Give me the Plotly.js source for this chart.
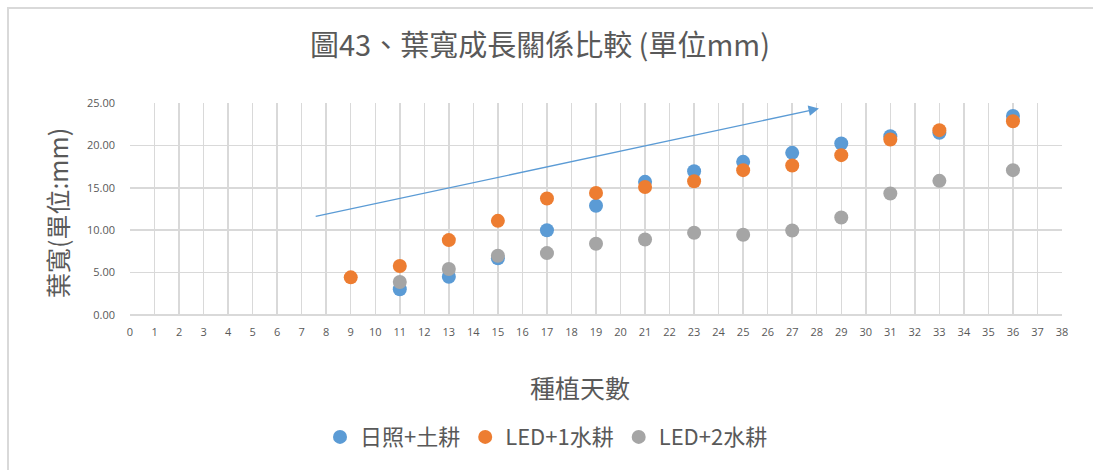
<!DOCTYPE html>
<html>
<head>
<meta charset="utf-8">
<script src="https://cdn.plot.ly/plotly-3.0.1.min.js"></script>
<style>
  html, body { margin: 0; padding: 0; background: #fff; }
  #wrap { position: relative; width: 1093px; height: 470px; overflow: hidden; }
  #chart { position: absolute; left: 0; top: 0; width: 1093px; height: 470px; }
  #frame { position: absolute; left: 7px; top: 7px; width: 1100px; height: 480px;
           border-left: 2px solid #D9D9D9; border-top: 2px solid #D9D9D9; pointer-events: none; }
</style>
</head>
<body>
<div id="wrap">
  <div id="chart"></div>
  <div id="frame"></div>
</div>
<script>
// ---- data ----
const days1 = [11, 13, 15, 17, 19, 21, 23, 25, 27, 29, 31, 33, 36];
const sunSoil = [3.03, 4.51, 6.68, 10.0, 12.88, 15.7, 16.96, 18.06, 19.12, 20.22, 21.08, 21.5, 23.47];

const days2 = [9, 11, 13, 15, 17, 19, 21, 23, 25, 27, 29, 31, 33, 36];
const led1Water = [4.44, 5.77, 8.83, 11.1, 13.74, 14.4, 15.1, 15.78, 17.08, 17.63, 18.85, 20.69, 21.8, 22.85];

const days3 = [11, 13, 15, 17, 19, 21, 23, 25, 27, 29, 31, 33, 36];
const led2Water = [3.89, 5.42, 6.99, 7.3, 8.4, 8.9, 9.7, 9.46, 9.97, 11.5, 14.33, 15.82, 17.08];

const seriesNames = ['日照+土耕', 'LED+1水耕', 'LED+2水耕'];
const seriesColors = ['#5B9BD5', '#ED7D31', '#A5A5A5'];

const titleText = '圖43、葉寬成長關係比較 (單位mm)';
const xTitle = '種植天數';
const yTitle = '葉寬(單位:mm)';

// trend arrow (data coordinates): tail, tip
const arrowTail = [7.51, 11.58];
const arrowTip = [28.09, 24.35];

// ---- chart ----
const xs = [days1, days2, days3];
const ys = [sunSoil, led1Water, led2Water];
const traces = xs.map((x, i) => ({
  type: 'scatter', mode: 'markers', x: x, y: ys[i], name: seriesNames[i],
  marker: { color: seriesColors[i], size: 14 }
}));

const txt = '#595959';
const cjk = '"Noto Sans CJK TC", "Noto Sans", sans-serif';
const num = '"Open Sans", sans-serif';

const layout = {
  width: 1093, height: 470,
  margin: { l: 130, r: 31, t: 103, b: 155 },
  paper_bgcolor: '#ffffff', plot_bgcolor: '#ffffff',
  font: { family: cjk, color: txt },
  title: { text: titleText, font: { size: 29, color: txt, family: cjk },
           x: 0.494, xref: 'container', xanchor: 'center', y: 0.902, yref: 'container', yanchor: 'middle' },
  xaxis: {
    range: [0, 38], dtick: 1, tick0: 0, showgrid: true, gridcolor: '#D9D9D9', gridwidth: 1.5,
    zeroline: false, showline: false, ticks: '', ticklabelstandoff: 9,
    tickfont: { size: 11, color: txt, family: num }, fixedrange: true
  },
  yaxis: {
    range: [0, 25], dtick: 5, tick0: 0, tickformat: '.2f', showgrid: true, gridcolor: '#D9D9D9', gridwidth: 1.5,
    zeroline: true, zerolinecolor: '#D9D9D9', zerolinewidth: 1.5, showline: false, ticks: '',
    ticklabelstandoff: 14,
    tickfont: { size: 11, color: txt, family: num }, fixedrange: true
  },
  showlegend: true,
  legend: {
    orientation: 'h', xref: 'container', x: 0.5, xanchor: 'center',
    yref: 'container', y: 0.07, yanchor: 'middle',
    font: { size: 22, color: txt, family: cjk }, itemclick: false, traceorder: 'normal'
  },
  annotations: [
    { xref: 'x', yref: 'y', axref: 'x', ayref: 'y', x: arrowTip[0], y: arrowTip[1],
      ax: arrowTail[0], ay: arrowTail[1], text: '', showarrow: true,
      arrowhead: 2, arrowsize: 1.6, arrowwidth: 1.3, arrowcolor: '#5B9BD5' },
    { xref: 'paper', yref: 'paper', x: 0.483, y: -0.34, xanchor: 'center', yanchor: 'middle',
      text: xTitle, showarrow: false, font: { size: 25, color: txt, family: cjk } },
    { xref: 'paper', yref: 'paper', x: -0.0783, y: 0.481, xanchor: 'center', yanchor: 'middle',
      text: yTitle, textangle: -90, showarrow: false, font: { size: 25, color: txt, family: cjk } }
  ]
};

Plotly.newPlot('chart', traces, layout, { displayModeBar: false, staticPlot: true });
</script>
</body>
</html>
